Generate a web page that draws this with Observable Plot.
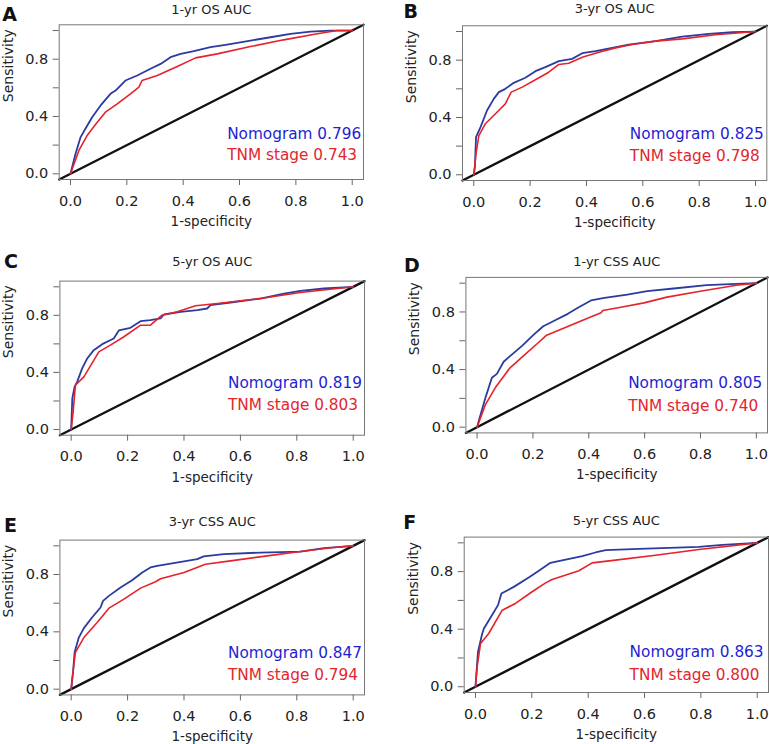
<!DOCTYPE html>
<html><head><meta charset="utf-8">
<script src="https://cdn.jsdelivr.net/npm/d3@7"></script>
<script src="https://cdn.jsdelivr.net/npm/@observablehq/plot@0.6"></script>
<style>
body{margin:0;background:#fff;}
#wrap{position:relative;width:769px;height:744px;overflow:hidden;background:#fff;}
#wrap svg{position:absolute;overflow:visible;}
</style></head><body><div id="wrap"></div>
<script>
// ---------- data ----------
const panelLetters = ["A","B","C","D","E","F"];
const panelTitles = ["1-yr OS AUC","3-yr OS AUC","5-yr OS AUC","1-yr CSS AUC","3-yr CSS AUC","5-yr CSS AUC"];
const seriesNames = ["Nomogram","TNM stage"];
const aucNomogram = ["0.796","0.825","0.819","0.805","0.847","0.863"];
const aucTNM = ["0.743","0.798","0.803","0.740","0.794","0.800"];
const xTicks = [0,0.2,0.4,0.6,0.8,1.0];
const xTickLabels = ["0.0","0.2","0.4","0.6","0.8","1.0"];
const yTicks = [0,0.2,0.4,0.6,0.8,1.0];
const yTickLabels = ["0.0","","0.4","","0.8",""];
const xAxisTitle = "1-specificity";
const yAxisTitle = "Sensitivity";
const chanceLine = [-0.04, 1.04]; // reference line y = x across the padded box

// ROC curves: [1-specificity, sensitivity]
const nomA = [[0,0],[0.018,0.14],[0.036,0.256],[0.053,0.314],[0.077,0.395],[0.107,0.477],[0.142,0.558],[0.160,0.581],[0.195,0.651],[0.237,0.686],[0.284,0.733],[0.320,0.767],[0.355,0.814],[0.391,0.837],[0.438,0.856],[0.497,0.884],[0.556,0.902],[0.639,0.930],[0.710,0.953],[0.781,0.977],[0.852,0.993],[0.923,1.0],[1,1]];
const tnmA = [[0,0],[0.030,0.163],[0.059,0.267],[0.095,0.360],[0.124,0.430],[0.166,0.488],[0.213,0.558],[0.243,0.605],[0.254,0.651],[0.308,0.686],[0.379,0.749],[0.444,0.809],[0.521,0.837],[0.639,0.888],[0.757,0.935],[0.876,0.977],[0.947,1.0],[1,1]];
const nomB = [[0,0],[0.004,0.053],[0.008,0.263],[0.024,0.333],[0.047,0.449],[0.071,0.530],[0.089,0.577],[0.112,0.600],[0.142,0.642],[0.183,0.677],[0.219,0.723],[0.254,0.751],[0.302,0.793],[0.349,0.809],[0.385,0.849],[0.432,0.863],[0.491,0.886],[0.550,0.909],[0.645,0.933],[0.740,0.965],[0.834,0.984],[0.917,0.995],[1,1]];
const tnmB = [[0,0],[0.008,0.147],[0.018,0.274],[0.041,0.356],[0.077,0.426],[0.112,0.495],[0.133,0.577],[0.172,0.612],[0.219,0.663],[0.266,0.716],[0.302,0.770],[0.337,0.779],[0.385,0.821],[0.444,0.856],[0.503,0.886],[0.562,0.909],[0.645,0.933],[0.740,0.949],[0.858,0.977],[1,1]];
const nomC = [[0,0],[0.004,0.217],[0.012,0.299],[0.021,0.334],[0.039,0.428],[0.057,0.498],[0.080,0.556],[0.110,0.598],[0.151,0.638],[0.169,0.694],[0.210,0.713],[0.246,0.759],[0.281,0.766],[0.317,0.778],[0.329,0.806],[0.388,0.825],[0.447,0.836],[0.482,0.848],[0.494,0.871],[0.565,0.890],[0.671,0.918],[0.754,0.953],[0.813,0.972],[0.896,0.988],[1,1]];
const tnmC = [[0,0],[0.007,0.124],[0.015,0.311],[0.045,0.369],[0.098,0.544],[0.139,0.591],[0.187,0.650],[0.246,0.731],[0.281,0.731],[0.322,0.801],[0.376,0.825],[0.441,0.867],[0.518,0.883],[0.671,0.918],[0.813,0.960],[1,1]];
const nomD = [[0,0],[0.006,0.042],[0.030,0.204],[0.053,0.343],[0.071,0.370],[0.095,0.454],[0.118,0.493],[0.160,0.563],[0.201,0.639],[0.237,0.701],[0.278,0.741],[0.325,0.787],[0.361,0.829],[0.408,0.880],[0.456,0.898],[0.538,0.921],[0.609,0.944],[0.704,0.963],[0.822,0.986],[0.929,0.995],[1,1]];
const tnmD = [[0,0],[0.030,0.157],[0.065,0.273],[0.118,0.412],[0.172,0.505],[0.219,0.586],[0.249,0.639],[0.314,0.690],[0.385,0.748],[0.444,0.794],[0.450,0.810],[0.515,0.833],[0.598,0.863],[0.680,0.903],[0.799,0.944],[0.929,0.986],[1,1]];
const nomE = [[0,0],[0.007,0.128],[0.012,0.256],[0.027,0.360],[0.045,0.426],[0.074,0.500],[0.104,0.570],[0.113,0.616],[0.134,0.651],[0.175,0.709],[0.216,0.760],[0.252,0.814],[0.281,0.849],[0.305,0.860],[0.400,0.891],[0.447,0.907],[0.470,0.926],[0.541,0.942],[0.671,0.953],[0.813,0.960],[0.896,0.984],[1,1]];
const tnmE = [[0,0],[0.007,0.128],[0.015,0.256],[0.045,0.360],[0.092,0.465],[0.134,0.565],[0.187,0.628],[0.246,0.705],[0.299,0.749],[0.317,0.770],[0.400,0.814],[0.476,0.872],[0.565,0.895],[0.695,0.930],[0.813,0.960],[0.931,0.988],[1,1]];
const nomF = [[0,0],[0.005,0.139],[0.009,0.243],[0.024,0.370],[0.030,0.405],[0.059,0.498],[0.080,0.567],[0.092,0.648],[0.136,0.694],[0.189,0.759],[0.225,0.806],[0.266,0.861],[0.320,0.884],[0.379,0.907],[0.426,0.933],[0.462,0.949],[0.580,0.958],[0.793,0.972],[0.876,0.986],[1,1]];
const tnmF = [[0,0],[0.006,0.139],[0.018,0.301],[0.047,0.370],[0.095,0.532],[0.142,0.579],[0.201,0.660],[0.249,0.722],[0.272,0.745],[0.367,0.806],[0.414,0.861],[0.497,0.880],[0.639,0.914],[0.793,0.954],[1,1]];
const nomogramCurves = [nomA, nomB, nomC, nomD, nomE, nomF];
const tnmCurves = [tnmA, tnmB, tnmC, tnmD, tnmE, tnmF];

// ---------- layout (positions / styles) ----------
const layout = [
  {left:0,   top:0,   w:385, h:245, mL:58.7, mR:22,  mT:24.3, mB:66,   titleDy:-15,  letDx:-57, letDy:-10,  lx:0.556, ly1:0.279, ly2:0.128},
  {left:385, top:0,   w:384, h:245, mL:77,   mR:2.7, mT:25.3, mB:65,   titleDy:-16.5,letDx:-59, letDy:-14,  lx:0.554, ly1:0.286, ly2:0.130},
  {left:0,   top:245, w:385, h:245, mL:59.4, mR:21,  mT:35.6, mB:55.3, titleDy:-19.5,letDx:-56, letDy:-19,  lx:0.556, ly1:0.322, ly2:0.170},
  {left:385, top:245, w:384, h:245, mL:80.4, mR:2,   mT:31.9, mB:57.6, titleDy:-15.5,letDx:-62, letDy:-11.5,lx:0.541, ly1:0.308, ly2:0.146},
  {left:0,   top:490, w:385, h:254, mL:59.4, mR:21,  mT:49.6, mB:49.6, titleDy:-18,  letDx:-56, letDy:-14.6,lx:0.556, ly1:0.249, ly2:0.100},
  {left:385, top:490, w:384, h:254, mL:78.7, mR:1,   mT:46.6, mB:52,   titleDy:-16.6,letDx:-61, letDy:-14,  lx:0.547, ly1:0.243, ly2:0.081}
];
const FONT = "DejaVu Sans";
const blueLine = "#2b3b9e", blueText = "#1e1ed2";
const redLine = "#e6222a", redText = "#e2262d";
const axisGray = "#666";
const tickFont = 14.5;

const wrap = document.getElementById("wrap");
panelLetters.forEach((letter, i) => {
  const L = layout[i];
  const chart = Plot.plot({
    width: L.w, height: L.h,
    marginLeft: L.mL, marginRight: L.mR, marginTop: L.mT, marginBottom: L.mB,
    style: {fontFamily: FONT, background: "transparent", overflow: "visible", color: "#222"},
    x: {domain: [-0.04, 1.04]},
    y: {domain: [-0.04, 1.04]},
    marks: [
      Plot.axisX({ticks: xTicks, tickFormat: () => "", tickSize: 6, label: null, stroke: axisGray}),
      Plot.axisY({ticks: yTicks, tickFormat: () => "", tickSize: 6, label: null, stroke: axisGray}),
      Plot.text(xTicks, {x: d => d, text: (d, j) => xTickLabels[j], frameAnchor: "bottom", lineAnchor: "middle", dy: 21.5, fontSize: tickFont, fill: "#222"}),
      Plot.text(yTicks, {y: d => d, text: (d, j) => yTickLabels[j], frameAnchor: "left", lineAnchor: "middle", textAnchor: "end", dx: -11, fontSize: tickFont, fill: "#222"}),
      Plot.line(chanceLine, {x: d => d, y: d => d, stroke: "#111", strokeWidth: 2.3}),
      Plot.line(nomogramCurves[i], {x: d => d[0], y: d => d[1], stroke: blueLine, strokeWidth: 1.8, strokeLinejoin: "round"}),
      Plot.line(tnmCurves[i], {x: d => d[0], y: d => d[1], stroke: redLine, strokeWidth: 1.6, strokeLinejoin: "round"}),
      Plot.frame({stroke: "#777", strokeWidth: 1}),
      Plot.text([xAxisTitle], {frameAnchor: "bottom", lineAnchor: "middle", dy: 42, fontSize: 13.5, fill: "#222"}),
      Plot.text([yAxisTitle], {frameAnchor: "left", lineAnchor: "middle", dx: -51, rotate: -90, fontSize: 14, fill: "#222"}),
      Plot.text([panelTitles[i]], {frameAnchor: "top", lineAnchor: "middle", dy: L.titleDy, fontSize: 13, fill: "#222"}),
      Plot.text([letter], {frameAnchor: "top-left", lineAnchor: "middle", dx: L.letDx, dy: L.letDy, textAnchor: "start", fontSize: 19, fontWeight: "bold", fill: "#111"}),
      Plot.text([`${seriesNames[0]} ${aucNomogram[i]}`], {x: L.lx, y: L.ly1, lineAnchor: "middle", textAnchor: "start", fontSize: 15.3, fill: blueText}),
      Plot.text([`${seriesNames[1]} ${aucTNM[i]}`], {x: L.lx, y: L.ly2, lineAnchor: "middle", textAnchor: "start", fontSize: 15.3, fill: redText})
    ]
  });
  chart.style.left = L.left + "px";
  chart.style.top = L.top + "px";
  wrap.appendChild(chart);
});
</script>
</body></html>
